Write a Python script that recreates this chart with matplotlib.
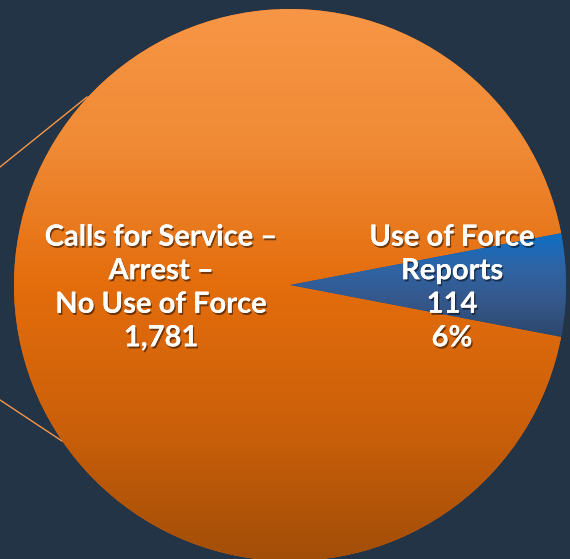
"""Calls for service with arrest: use of force share."""

import matplotlib
matplotlib.use("Agg")
import matplotlib.pyplot as plt
import matplotlib.patheffects as pe
import numpy as np
from matplotlib.colors import LinearSegmentedColormap

labels = ["Calls for Service –\nArrest –\nNo Use of Force", "Use of Force\nReports"]
counts = [1781, 114]

BG = "#243447"
W, H = 570, 559

fig = plt.figure(figsize=(W / 100, H / 100), dpi=100, facecolor=BG)
ax = fig.add_axes([0, 0, 1, 1])
ax.set_facecolor(BG)

cx, cy, r = 290, H - 285, 276
start = 180 * counts[1] / sum(counts)

wedges, _ = ax.pie(counts, center=(cx, cy), radius=r, startangle=start,
                   colors=["#E36C09", "#2E5A8E"], frame=True,
                   wedgeprops=dict(linewidth=0))

# vertical gradients clipped to the wedges
orange = LinearSegmentedColormap.from_list(
    "o", ["#A24E08", "#CC600A", "#E46D0C", "#F08A35", "#F79646"])
grad = np.linspace(0, 1, 256).reshape(-1, 1)
im = ax.imshow(grad, cmap=orange, origin="lower", aspect="auto",
               extent=(cx - r, cx + r, cy - r, cy + r), zorder=2)
im.set_clip_path(wedges[0])

blue = LinearSegmentedColormap.from_list(
    "b", ["#2B476C", "#35578A", "#2F64A4", "#0F6FC6"])
ang = np.radians(start)
bh = r * np.sin(ang)
im2 = ax.imshow(grad, cmap=blue, origin="lower", aspect="auto",
                extent=(cx, cx + r, cy - bh, cy + bh), zorder=2)
im2.set_clip_path(wedges[1])

ax.set_xlim(0, W)
ax.set_ylim(0, H)
ax.axis("off")

# connector lines from the left
ax.plot([0, 87], [H - 167, H - 97], color="#F79646", lw=1, zorder=1)
ax.plot([0, 62], [H - 400, H - 441], color="#F79646", lw=1, zorder=1)

shadow = [pe.withSimplePatchShadow(offset=(1, -1.5), shadow_rgbFace="black", alpha=0.5),
          pe.Normal()]
total = sum(counts)
txt_kw = dict(color="white", fontsize=21, fontweight="bold", family="Lato",
              ha="center", va="center", linespacing=1.36, zorder=5,
              path_effects=shadow)

ax.text(161, H - 288, f"{labels[0]}\n{counts[0]:,}", **txt_kw)
ax.text(452, H - 288, f"{labels[1]}\n{counts[1]}\n{counts[1] / total:.0%}", **txt_kw)

fig.savefig("out.png", dpi=100, facecolor=BG)
